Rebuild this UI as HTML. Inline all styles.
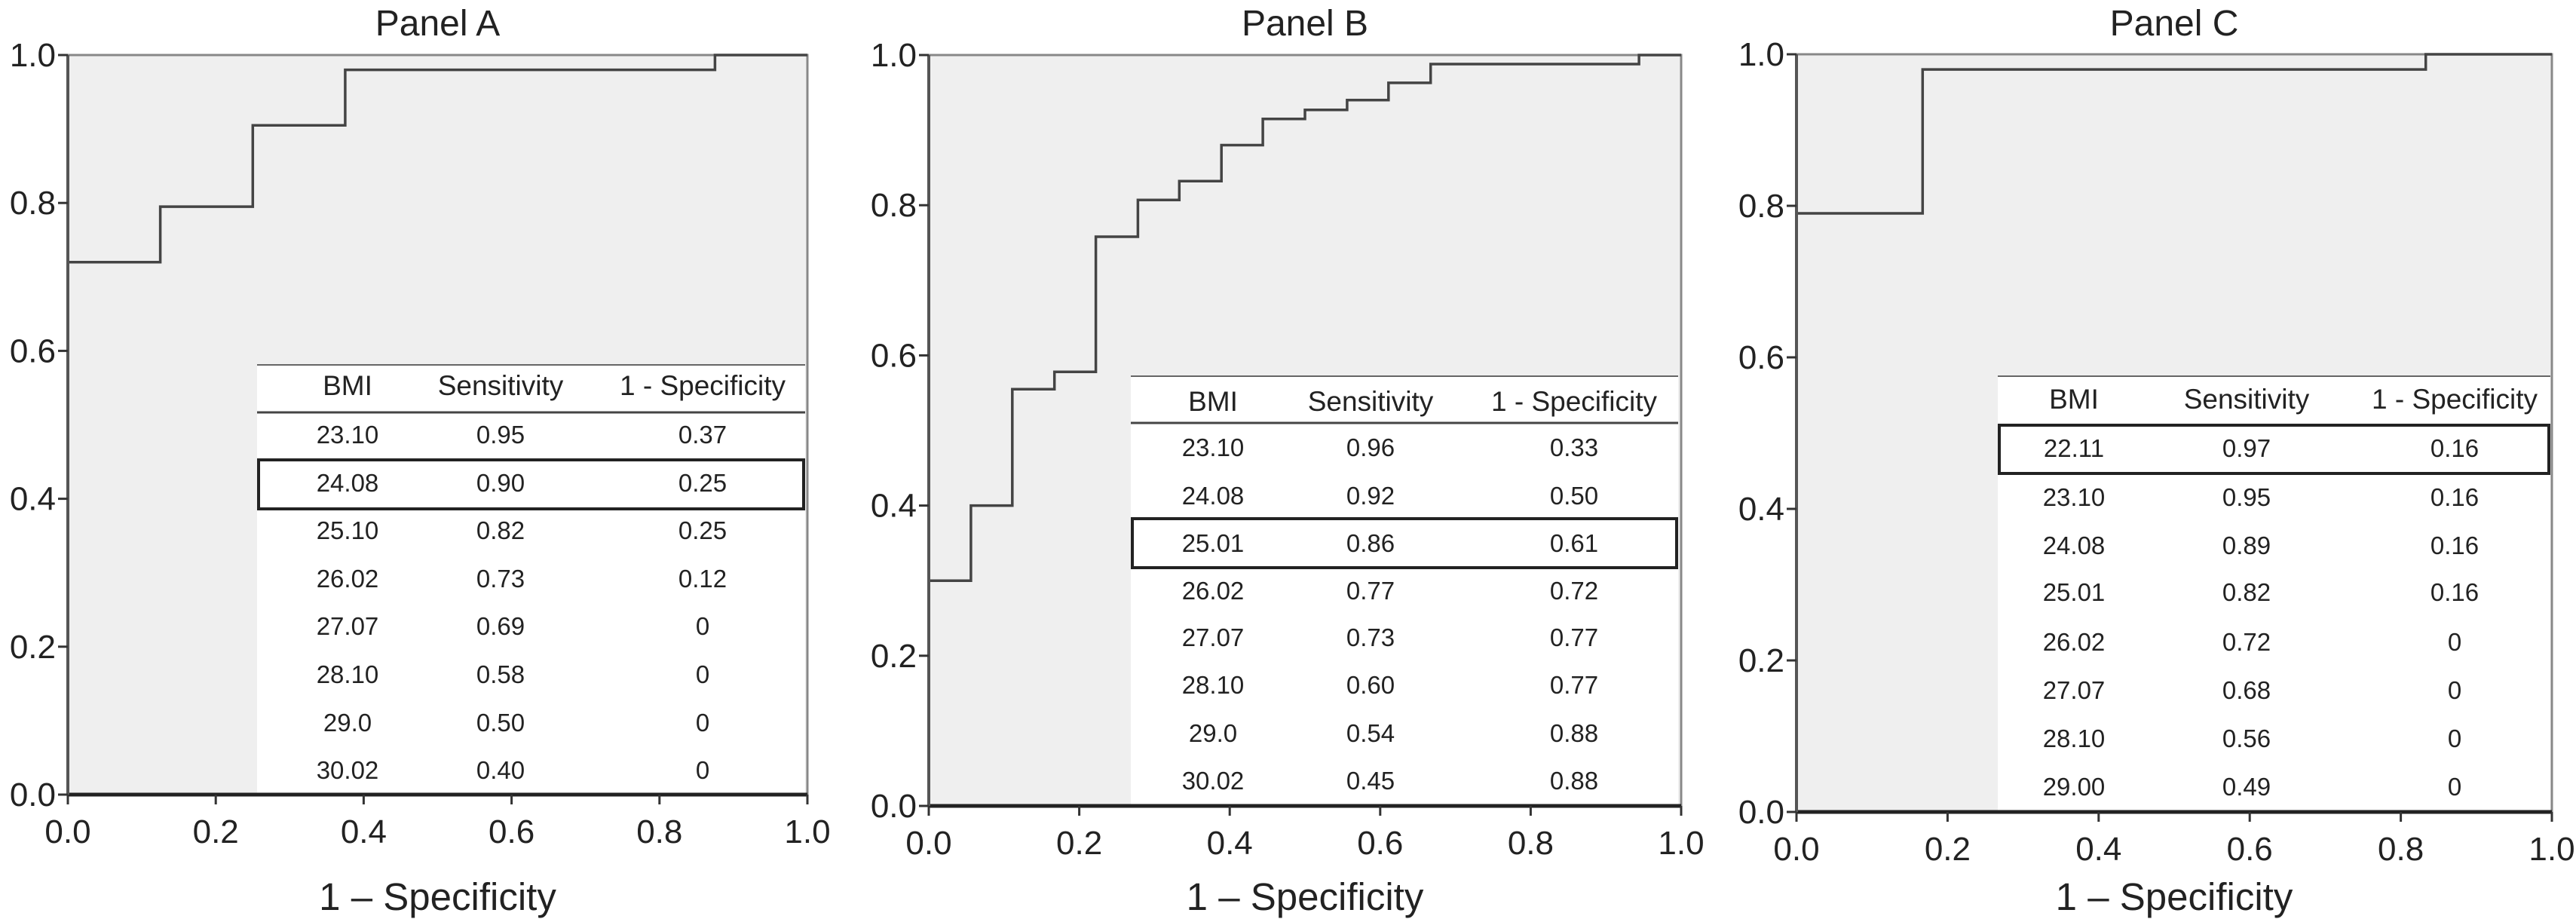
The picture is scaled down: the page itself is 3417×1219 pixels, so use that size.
<!DOCTYPE html>
<html><head><meta charset="utf-8"><style>
html,body{margin:0;padding:0;background:#fff;}
svg{display:block;font-family:"Liberation Sans",sans-serif;}
</style></head><body>
<svg id="chart" width="3417" height="1219" viewBox="0 0 3417 1219"></svg>
<script>
const panelTitles = ["Panel A","Panel B","Panel C"];
const rocA_x = [0,0.125,0.125,0.25,0.25,0.375,0.375,0.875,0.875,1.0];
const rocA_y = [0.72,0.72,0.795,0.795,0.905,0.905,0.98,0.98,1.0,1.0];
const rocB_steps_x = [0,0.056,0.111,0.167,0.222,0.278,0.333,0.389,0.444,0.5,0.556,0.611,0.667,0.944,1.0];
const rocB_steps_y = [0.30,0.40,0.555,0.578,0.758,0.807,0.832,0.88,0.915,0.927,0.94,0.963,0.988,1.0,1.0];
const rocC_steps_x = [0,0.167,0.833,1.0];
const rocC_steps_y = [0.79,0.98,1.0,1.0];
const tickValues = [0,0.2,0.4,0.6,0.8,1.0];
const tickLabels = ["0.0","0.2","0.4","0.6","0.8","1.0"];
const tableHeaders = ["BMI","Sensitivity","1 - Specificity"];
const tableA_bmi = ["23.10","24.08","25.10","26.02","27.07","28.10","29.0","30.02"];
const tableA_sens = ["0.95","0.90","0.82","0.73","0.69","0.58","0.50","0.40"];
const tableA_spec = ["0.37","0.25","0.25","0.12","0","0","0","0"];
const tableB_bmi = ["23.10","24.08","25.01","26.02","27.07","28.10","29.0","30.02"];
const tableB_sens = ["0.96","0.92","0.86","0.77","0.73","0.60","0.54","0.45"];
const tableB_spec = ["0.33","0.50","0.61","0.72","0.77","0.77","0.88","0.88"];
const tableC_bmi = ["22.11","23.10","24.08","25.01","26.02","27.07","28.10","29.00"];
const tableC_sens = ["0.97","0.95","0.89","0.82","0.72","0.68","0.56","0.49"];
const tableC_spec = ["0.16","0.16","0.16","0.16","0","0","0","0"];

function stepsToPath(xs, ys){
  const px=[xs[0]], py=[ys[0]];
  for(let i=1;i<xs.length;i++){ px.push(xs[i]); py.push(ys[i-1]); px.push(xs[i]); py.push(ys[i]); }
  return [px,py];
}
const B = stepsToPath(rocB_steps_x, rocB_steps_y);
const C = stepsToPath(rocC_steps_x, rocC_steps_y);

const panels = [
 {x0:90,x1:1071,y0:73,y1:1054,title:panelTitles[0],cx:rocA_x,cy:rocA_y,
  tl:341,tr:1068,top:484,hline:547,head:511,rows:[576,640,703,767,830,894,958,1021],hl:[610,675],cols:[461,664,932],
  bmi:tableA_bmi,sens:tableA_sens,spec:tableA_spec,key:"a"},
 {x0:1232,x1:2230,y0:73,y1:1069,title:panelTitles[1],cx:B[0],cy:B[1],
  tl:1500,tr:2226,top:499,hline:561,head:532,rows:[593,657,720,783,845,908,972,1035],hl:[688,753],cols:[1609,1818,2088],
  bmi:tableB_bmi,sens:tableB_sens,spec:tableB_spec,key:"b"},
 {x0:2383,x1:3385,y0:72,y1:1077,title:panelTitles[2],cx:C[0],cy:C[1],
  tl:2650,tr:3383,top:499,hline:null,head:529,rows:[594,659,723,785,851,915,979,1043],hl:[564,628],cols:[2751,2980,3256],
  bmi:tableC_bmi,sens:tableC_sens,spec:tableC_spec,key:"c"}
];
const NS="http://www.w3.org/2000/svg";
const svg=document.getElementById('chart');
function mk(tag,attrs,parent,text){const e=document.createElementNS(NS,tag);for(const k in attrs)e.setAttribute(k,attrs[k]);if(text!==undefined)e.textContent=text;(parent||svg).appendChild(e);return e;}

panels.forEach(p=>{
  const g=mk('g',{});
  
  
  const sx=v=>p.x0+v*(p.x1-p.x0);
  const sy=v=>p.y1-v*(p.y1-p.y0);
  const bg=mk('rect',{x:p.x0,y:p.y0,width:p.x1-p.x0,height:p.y1-p.y0,fill:'#efefef',stroke:'#888','stroke-width':3},g);
  
  
  const wt=mk('rect',{x:p.tl,y:p.top,width:p.tr-p.tl,height:p.y1-p.top,fill:'#fff'},g);
  
  
  let d='';
  p.cx.forEach((v,i)=>{d+=(i?'L':'M')+sx(v).toFixed(1)+','+sy(p.cy[i]).toFixed(1);});
  const path=mk('path',{d:d,fill:'none',stroke:'#444','stroke-width':3.5},g);
  
  
  const xa=mk('line',{x1:p.x0,y1:p.y1,x2:p.x1,y2:p.y1,stroke:'#222','stroke-width':5},g);
  
  
  const ya=mk('line',{x1:p.x0,y1:p.y0,x2:p.x0,y2:p.y1,stroke:'#555','stroke-width':4},g);
  
  
  tickValues.forEach((t,i)=>{
    mk('line',{x1:sx(t),y1:p.y1,x2:sx(t),y2:p.y1+13,stroke:'#333','stroke-width':3},g);
    const xl=mk('text',{x:sx(t),y:p.y1+64,'text-anchor':'middle','font-size':44,fill:'#222'},g,tickLabels[i]);
    
    
    mk('line',{x1:p.x0-13,y1:sy(t),x2:p.x0,y2:sy(t),stroke:'#333','stroke-width':3},g);
    const yl=mk('text',{x:p.x0-16,y:sy(t)+15,'text-anchor':'end','font-size':44,fill:'#222'},g,tickLabels[i]);
    
    
  });
  const tt=mk('text',{x:(p.x0+p.x1)/2,y:47,'text-anchor':'middle','font-size':48,fill:'#222'},g,p.title);
  
  
  const xt=mk('text',{x:(p.x0+p.x1)/2,y:1207,'text-anchor':'middle','font-size':51,fill:'#222'},g,'1 – Specificity');
  
  
  mk('line',{x1:p.tl,y1:p.top,x2:p.tr,y2:p.top,stroke:'#666','stroke-width':2},g);
  if(p.hline) mk('line',{x1:p.tl,y1:p.hline,x2:p.tr,y2:p.hline,stroke:'#444','stroke-width':3},g);
  tableHeaders.forEach((h,i)=>{
    const ht=mk('text',{x:p.cols[i],y:p.head+13,'text-anchor':'middle','font-size':37,fill:'#222'},g,h);
    
    
  });
  p.rows.forEach((ry,r)=>{
    [p.bmi[r],p.sens[r],p.spec[r]].forEach((v,i)=>{
      const c=mk('text',{x:p.cols[i],y:ry+12,'text-anchor':'middle','font-size':33,fill:'#222'},g,v);
      
      
    });
  });
  const hb=mk('rect',{x:p.tl+2,y:p.hl[0],width:p.tr-p.tl-4,height:p.hl[1]-p.hl[0],fill:'none',stroke:'#222','stroke-width':4},g);
  
  
});
</script>
</body></html>
